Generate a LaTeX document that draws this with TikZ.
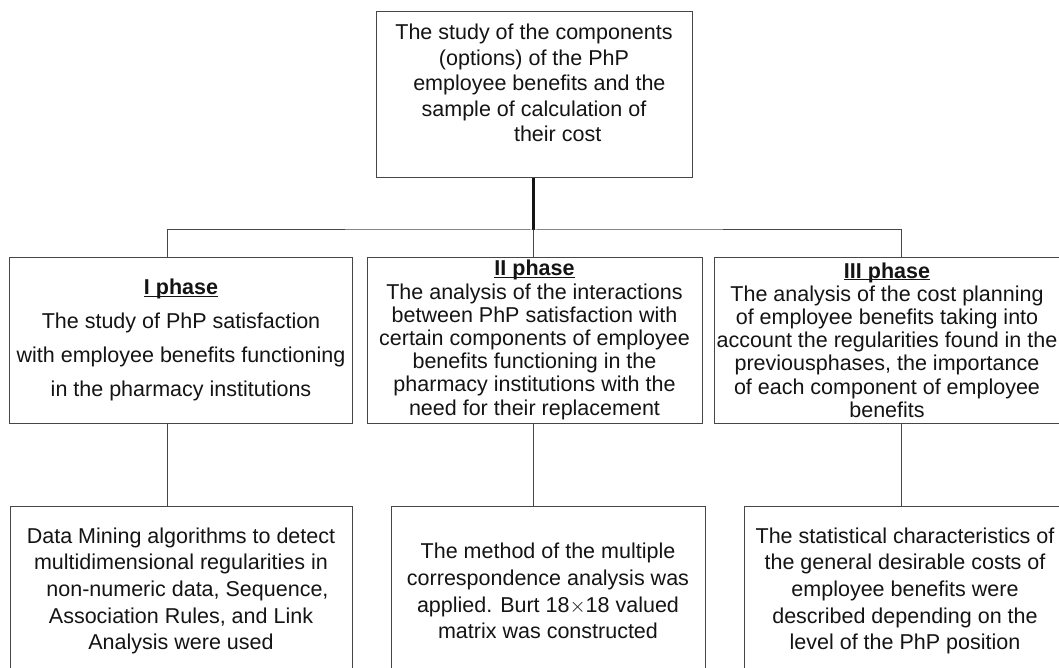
\documentclass[tikz,border=0pt]{standalone}
\usepackage{fontspec}
\setmainfont{Liberation Sans}
\usepackage{tikz}
\usetikzlibrary{positioning, calc}
\definecolor{framegray}{RGB}{70,70,70}
\definecolor{inkblack}{RGB}{20,20,20}
\newcommand{\phasehead}[1]{\underline{\raisebox{0pt}[\height][0pt]{\textbf{#1}}}}

\begin{document}
\begin{tikzpicture}[x=1pt, y=-1pt,
    box/.style={rectangle, draw=framegray, line width=1pt, align=center, text=inkblack, inner sep=0pt},
    link/.style={draw=framegray, line width=1pt},
    trunk/.style={draw=inkblack, line width=2.2pt}]
    \clip (0,0) rectangle (1059,668);
    \fill[white] (0,0) rectangle (1059,668);

    % Top box
    \node[box, minimum width=316pt, minimum height=166pt, text depth=24pt,
        font=\fontsize{21.5}{25.5}\selectfont] (top) at (534,95)
        {The study of the components\\ (options) of the PhP\\ \hspace*{0.5em}employee benefits and the\\ sample of calculation of\\ \hspace*{2.2em}their cost};

    % Phases
    \node[box, minimum width=343pt, minimum height=166pt,
        font=\fontsize{21.5}{34}\selectfont] (p1) at (181,340)
        {\phasehead{I phase}\\ The study of PhP satisfaction\\ with employee benefits functioning\\ in the pharmacy institutions};
    \node[box, minimum width=335pt, minimum height=166pt,
        font=\fontsize{21.5}{23.2}\selectfont] (p2) at (534.5,340)
        {\phasehead{II phase}\\ The analysis of the interactions\\ between PhP satisfaction with\\ certain components of employee\\ benefits functioning in the\\ pharmacy institutions with the\\ need for their replacement};
    \node[box, minimum width=346pt, minimum height=166pt,
        font=\fontsize{21.5}{23.2}\selectfont] (p3) at (887,340)
        {\phasehead{III phase}\\ The analysis of the cost planning\\ of employee benefits taking into\\ account the regularities found in the\\ previousphases, the importance\\ of each component of employee\\ benefits};

    % Methods
    \node[box, minimum width=342pt, minimum height=170pt,
        font=\fontsize{21.5}{26.7}\selectfont] (d1) at (181,591)
        {Data Mining algorithms to detect\\ multidimensional regularities in\\ \hspace*{0.6em}non-numeric data, Sequence,\\ Association Rules, and Link\\ Analysis were used};
    \node[box, minimum width=314pt, minimum height=170pt,
        font=\fontsize{21.5}{26.7}\selectfont] (d2) at (548,591)
        {The method of the multiple\\ correspondence analysis was\\ applied. Burt 18$\times$18 valued\\ matrix was constructed};
    \node[box, minimum width=322pt, minimum height=170pt,
        font=\fontsize{21.5}{26.7}\selectfont] (d3) at (905,591)
        {The statistical characteristics of\\ the general desirable costs of\\ employee benefits were\\ described depending on the\\ level of the PhP position};

    % Connectors
    \coordinate (bus) at (533.5,230);
    \draw[trunk] (top.south -| bus) -- (bus);
    \draw[link] ([xshift=-14pt]p1.north) |- (bus) -| ([xshift=14pt]p3.north);
    \draw[link] (bus) -- (bus |- p2.north);
    \draw[link] ([xshift=-14pt]p1.south) -- ([xshift=-14pt]p1.south |- d1.north);
    \draw[link] ([xshift=-1pt]p2.south) -- ([xshift=-1pt]p2.south |- d2.north);
    \draw[link] ([xshift=14pt]p3.south) -- ([xshift=14pt]p3.south |- d3.north);
\end{tikzpicture}
\end{document}
